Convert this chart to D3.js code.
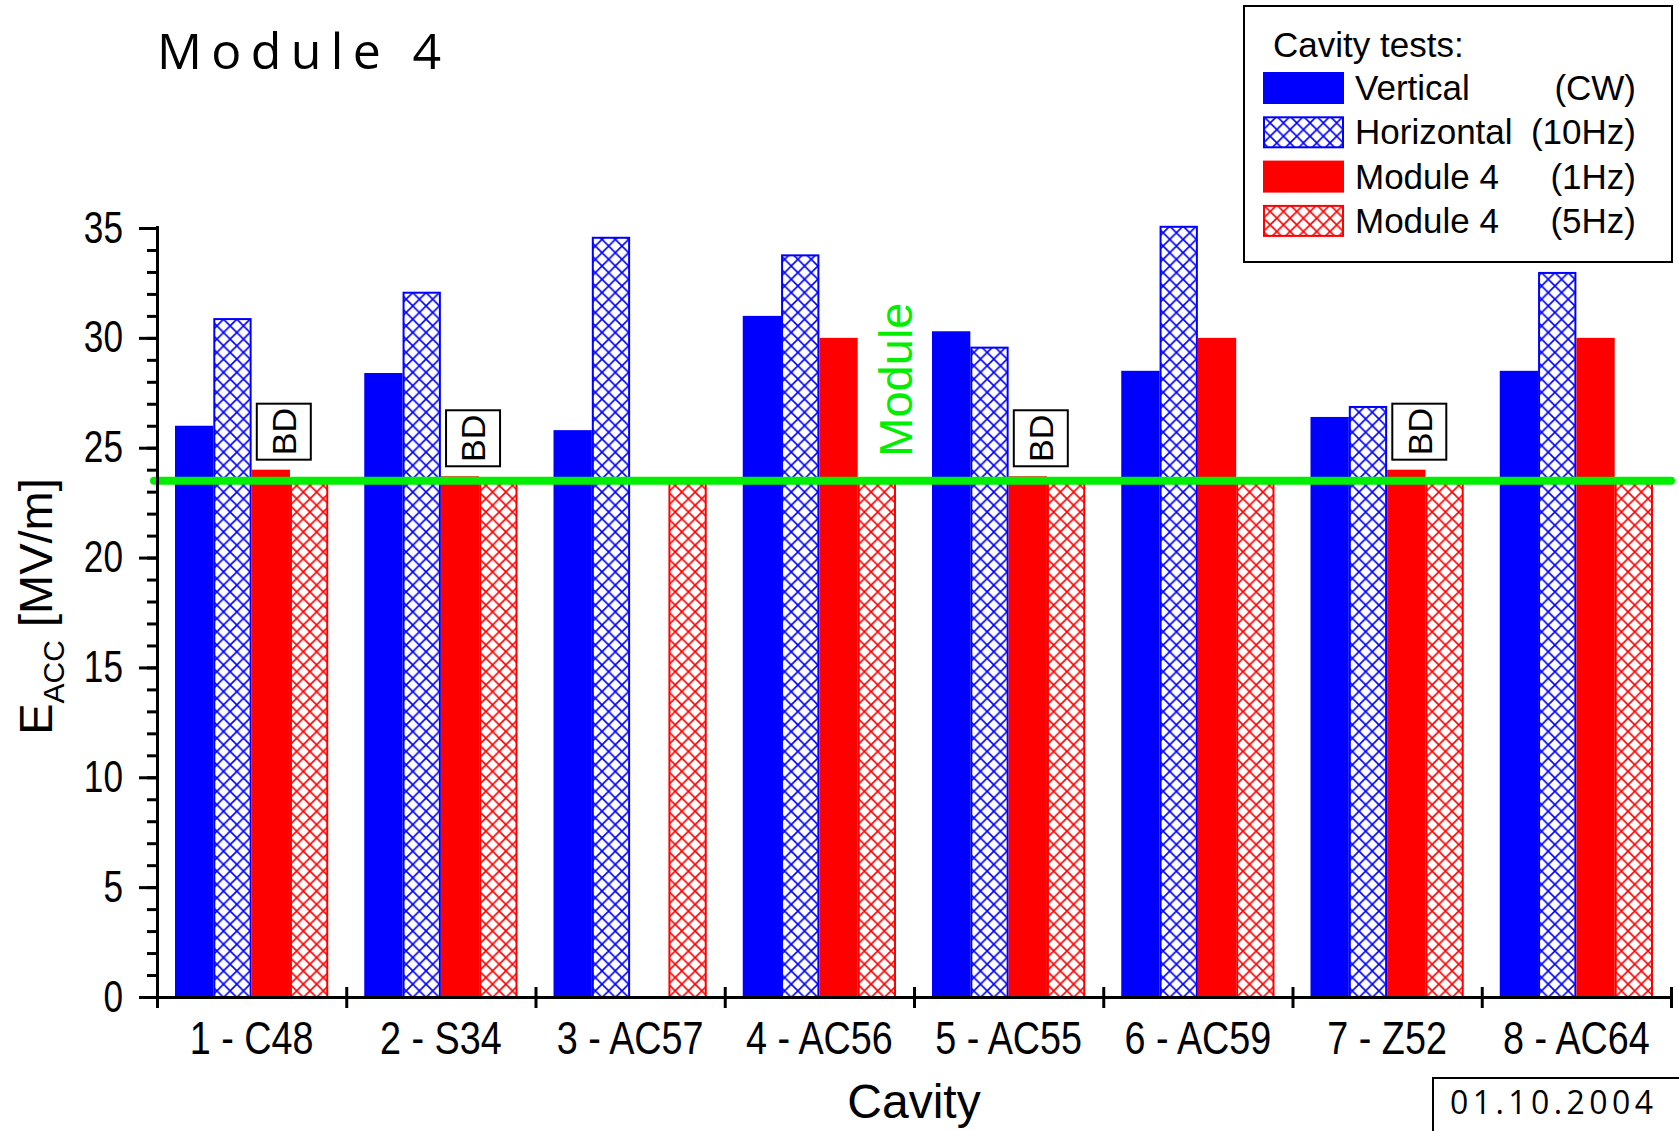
<!DOCTYPE html>
<html>
<head>
<meta charset="utf-8">
<script src="https://cdn.jsdelivr.net/npm/d3@7"></script>
<style>
  body { margin: 0; background: #fff; }
  svg { display: block; }
  .arial { font-family: "Liberation Sans", Arial, sans-serif; }
</style>
</head>
<body>
<script>
const w = 1679;
const h = 1131;

// data
const cavities = ["1 - C48", "2 - S34", "3 - AC57", "4 - AC56", "5 - AC55", "6 - AC59", "7 - Z52", "8 - AC64"];
const vertical   = [26.0, 28.4, 25.8, 31.0, 30.3, 28.5, 26.4, 28.5];
const horizontal = [30.9, 32.1, 34.6, 33.8, 29.6, 35.1, 26.9, 33.0];
const module1Hz  = [24.0, 23.7, null, 30.0, 23.7, 30.0, 24.0, 30.0];
const module5Hz  = [23.5, 23.5, 23.5, 23.5, 23.5, 23.5, 23.5, 23.5];
const breakdown  = [true, true, false, false, true, false, true, false];
const moduleGradient = 23.5;
const yTicks = [0, 5, 10, 15, 20, 25, 30, 35];
const seriesNames = ["vertical", "horizontal", "module1Hz", "module5Hz"];
const legendLabels = ["Vertical", "Horizontal", "Module 4", "Module 4"];
const legendModes = ["(CW)", "(10Hz)", "(1Hz)", "(5Hz)"];

const seriesValues = { vertical, horizontal, module1Hz, module5Hz };
const seriesStyle = {
  vertical:   { color: "#0000ff", hatch: false },
  horizontal: { color: "#0000ff", hatch: true },
  module1Hz:  { color: "#ff0000", hatch: false },
  module5Hz:  { color: "#ff0000", hatch: true }
};

const plotLeft = 157, plotRight = 1671, plotTop = 228, plotBottom = 997;

const x = d3.scaleBand().domain(cavities).range([plotLeft, plotRight]).padding(0);
const xs = d3.scaleBand().domain(seriesNames).range([0, x.bandwidth()]).paddingInner(0).paddingOuter(0.47);
const y = d3.scaleLinear().domain([0, 35]).range([plotBottom, plotTop]);

const svg = d3.select("body").append("svg")
  .attr("width", w)
  .attr("height", h);

// squeeze text horizontally (no narrow font installed)
const condense = (sel, k) => sel.each(function() {
  const len = this.getComputedTextLength();
  d3.select(this).attr("textLength", len * k).attr("lengthAdjust", "spacingAndGlyphs");
});

const defs = svg.append("defs");
[["hatch-blue", "#0000ff"], ["hatch-red", "#ff0000"]].forEach(([id, col]) => {
  const p = defs.append("pattern")
    .attr("id", id)
    .attr("patternUnits", "userSpaceOnUse")
    .attr("width", 13.3)
    .attr("height", 13.3);
  p.append("rect").attr("width", 13.3).attr("height", 13.3).attr("fill", "#fff");
  p.append("path")
    .attr("d", "M0,0L13.3,13.3M13.3,0L0,13.3")
    .attr("stroke", col)
    .attr("stroke-width", 1.6);
});

const fillFor = s => seriesStyle[s].hatch
  ? (seriesStyle[s].color === "#0000ff" ? "url(#hatch-blue)" : "url(#hatch-red)")
  : seriesStyle[s].color;

// bars
const groups = svg.append("g").selectAll("g")
  .data(cavities)
  .enter().append("g")
  .attr("transform", d => `translate(${x(d)},0)`);

groups.selectAll("rect")
  .data((d, i) => seriesNames.map(s => ({ s, v: seriesValues[s][i] })).filter(e => e.v != null))
  .enter().append("rect")
  .attr("x", d => xs(d.s) + (seriesStyle[d.s].hatch ? 1 : 0))
  .attr("y", d => y(d.v) + (seriesStyle[d.s].hatch ? 1 : 0))
  .attr("width", d => xs.bandwidth() - (seriesStyle[d.s].hatch ? 2 : 0))
  .attr("height", d => y(0) - y(d.v) - (seriesStyle[d.s].hatch ? 1 : 0))
  .attr("fill", d => fillFor(d.s))
  .attr("stroke", d => seriesStyle[d.s].hatch ? seriesStyle[d.s].color : "none")
  .attr("stroke-width", 2);

// BD boxes
const bd = svg.append("g").selectAll("g")
  .data(cavities.map((c, i) => ({ c, v: module1Hz[i], bd: breakdown[i] })).filter(d => d.bd))
  .enter().append("g")
  .attr("transform", d => `translate(${x(d.c) + x.bandwidth() * 0.67},${y(d.v) - 10 - 28})`);
bd.append("rect")
  .attr("x", -27).attr("y", -28)
  .attr("width", 54).attr("height", 56)
  .attr("fill", "#fff")
  .attr("stroke", "#000")
  .attr("stroke-width", 2);
bd.append("text")
  .attr("class", "arial")
  .attr("transform", "rotate(-90)")
  .attr("text-anchor", "middle")
  .attr("dy", "0.36em")
  .attr("font-size", 34)
  .text("BD");

// module gradient line
svg.append("line")
  .attr("x1", plotLeft - 3).attr("x2", plotRight)
  .attr("y1", y(moduleGradient)).attr("y2", y(moduleGradient))
  .attr("stroke", "#00ee00")
  .attr("stroke-width", 8)
  .attr("stroke-linecap", "round");

svg.append("text")
  .attr("class", "arial")
  .attr("transform", `translate(${x(cavities[3]) + x.bandwidth() - 2},${y(28.1)}) rotate(-90)`)
  .attr("text-anchor", "middle")
  .attr("font-size", 47)
  .attr("fill", "#00ee00")
  .text("Module");

// y axis
const yAxis = svg.append("g")
  .attr("transform", `translate(${plotLeft},0)`)
  .call(d3.axisLeft(y).tickValues(yTicks).tickSize(18).tickPadding(16));
yAxis.selectAll("text").attr("class", "arial").attr("font-size", 44).attr("fill", "#000")
  .call(condense, 0.8);
svg.append("g")
  .attr("transform", `translate(${plotLeft},0)`)
  .call(d3.axisLeft(y).tickValues(d3.range(0, 36)).tickSize(10).tickFormat(""))
  .select(".domain").remove();

// x axis: labels at centres, ticks at boundaries
const xAxis = svg.append("g")
  .attr("transform", `translate(0,${plotBottom})`)
  .call(d3.axisBottom(x).tickSize(0).tickPadding(24));
xAxis.selectAll("text").attr("class", "arial").attr("font-size", 46).attr("fill", "#000")
  .call(condense, 0.82);
const xEdges = d3.scaleLinear().domain([0, cavities.length]).range([plotLeft, plotRight]);
svg.append("g")
  .attr("transform", `translate(0,${plotBottom - 10})`)
  .call(d3.axisBottom(xEdges).ticks(cavities.length).tickSize(21).tickFormat(""))
  .select(".domain").remove();

svg.selectAll(".domain, .tick line").attr("stroke", "#000").attr("stroke-width", 3);
xAxis.select(".domain").attr("d", `M${plotLeft - 2},0.5H${plotRight + 1}`);
yAxis.select(".domain").attr("d", `M0.5,${plotBottom}V${plotTop - 2}`);

// axis titles
svg.append("text")
  .attr("class", "arial")
  .attr("x", (plotLeft + plotRight) / 2)
  .attr("y", 1118)
  .attr("text-anchor", "middle")
  .attr("font-size", 48)
  .text("Cavity");

const yt = svg.append("text")
  .attr("class", "arial")
  .attr("transform", `translate(52,${(plotTop + plotBottom) / 2 - 6}) rotate(-90)`)
  .attr("text-anchor", "middle")
  .attr("font-size", 47);
yt.append("tspan").text("E");
yt.append("tspan").attr("font-size", 30).attr("dy", 12).text("ACC");
yt.append("tspan").attr("dy", -12).text(" [MV/m]");

// title
svg.append("text")
  .attr("x", 157)
  .attr("y", 69)
  .attr("font-family", "'Open Sans', sans-serif")
  .attr("font-size", 50)
  .attr("textLength", 284)
  .attr("lengthAdjust", "spacing")
  .text("Module 4");

// legend
const lg = svg.append("g");
lg.append("rect")
  .attr("x", 1244).attr("y", 6)
  .attr("width", 428).attr("height", 256)
  .attr("fill", "#fff")
  .attr("stroke", "#000")
  .attr("stroke-width", 2);
lg.append("text")
  .attr("class", "arial")
  .attr("x", 1273).attr("y", 57)
  .attr("font-size", 35)
  .text("Cavity tests:");
const rows = lg.selectAll("g.row")
  .data(seriesNames)
  .enter().append("g")
  .attr("class", "row")
  .attr("transform", (d, i) => `translate(0,${72 + i * 44.3})`);
rows.append("rect")
  .attr("x", d => 1263 + (seriesStyle[d].hatch ? 1 : 0))
  .attr("y", d => seriesStyle[d].hatch ? 1 : 0)
  .attr("width", d => 81 - (seriesStyle[d].hatch ? 2 : 0))
  .attr("height", d => 32 - (seriesStyle[d].hatch ? 2 : 0))
  .attr("fill", d => fillFor(d))
  .attr("stroke", d => seriesStyle[d].hatch ? seriesStyle[d].color : "none")
  .attr("stroke-width", 2);
rows.append("text")
  .attr("class", "arial")
  .attr("x", 1355).attr("y", 28)
  .attr("font-size", 35)
  .text((d, i) => legendLabels[i]);
rows.append("text")
  .attr("class", "arial")
  .attr("x", 1636).attr("y", 28)
  .attr("text-anchor", "end")
  .attr("font-size", 35)
  .text((d, i) => legendModes[i]);

// date stamp
svg.append("rect")
  .attr("x", 1433).attr("y", 1078)
  .attr("width", 260).attr("height", 80)
  .attr("fill", "#fff")
  .attr("stroke", "#000")
  .attr("stroke-width", 2);
svg.append("text")
  .attr("x", 1450).attr("y", 1114)
  .attr("font-family", "'Open Sans', sans-serif")
  .attr("font-size", 32)
  .attr("textLength", 203)
  .attr("lengthAdjust", "spacing")
  .text("01.10.2004");
</script>
</body>
</html>
